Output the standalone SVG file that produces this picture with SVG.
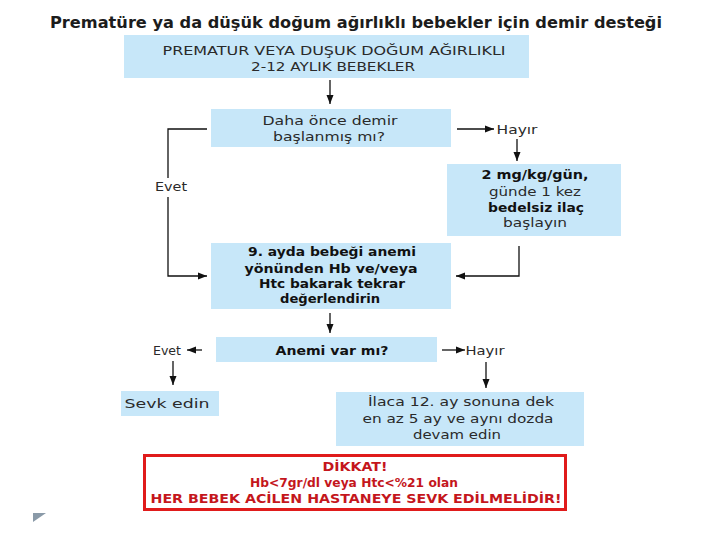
<svg xmlns="http://www.w3.org/2000/svg" width="720" height="540" viewBox="0 0 720 540">
<defs>
<marker id="ah" markerUnits="userSpaceOnUse" markerWidth="10" markerHeight="10" refX="9" refY="5" orient="auto">
<path d="M0,1.5 L9,5 L0,8.5 Z" fill="#111"/>
</marker>
<style>
.box{fill:#c7e7f9}
.t{font-family:"DejaVu Sans","Liberation Sans",sans-serif;font-size:11.5px;fill:#2a2a2a;text-anchor:middle}
.b{font-weight:bold;fill:#111}
.ttl{font-family:"DejaVu Sans","Liberation Sans",sans-serif;font-size:15px;font-weight:bold;fill:#1c1c1c;text-anchor:middle}
.r{font-family:"DejaVu Sans","Liberation Sans",sans-serif;font-size:11.5px;fill:#c4161c;text-anchor:middle}
.c{fill:none;stroke:#111;stroke-width:1.3}
</style>
</defs>
<rect width="720" height="540" fill="#fff"/>
<text class="ttl" x="356" y="28" textLength="612" lengthAdjust="spacingAndGlyphs">Prematüre ya da düşük doğum ağırlıklı bebekler için demir desteği</text>

<g id="n1"><rect class="box" x="124" y="35" width="405" height="43"/>
<text class="t" x="334" y="55" textLength="343" lengthAdjust="spacingAndGlyphs">PREMATUR VEYA DUŞUK DOĞUM AĞIRLIKLI</text>
<text class="t" x="333" y="71" textLength="164" lengthAdjust="spacingAndGlyphs">2-12 AYLIK BEBEKLER</text></g>

<g id="n2"><rect class="box" x="211" y="109" width="240" height="38"/>
<text class="t" x="330" y="125" textLength="135" lengthAdjust="spacingAndGlyphs">Daha önce demir</text>
<text class="t" x="329" y="141" textLength="112" lengthAdjust="spacingAndGlyphs">başlanmış mı?</text></g>

<g id="l_hayir1"><text class="t" x="517" y="134" textLength="41" lengthAdjust="spacingAndGlyphs">Hayır</text></g>

<g id="n3"><rect class="box" x="447" y="164" width="174" height="72"/>
<text class="t b" x="535" y="179" textLength="107" lengthAdjust="spacingAndGlyphs">2 mg/kg/gün,</text>
<text class="t" x="535" y="196" textLength="92" lengthAdjust="spacingAndGlyphs">günde 1 kez</text>
<text class="t b" x="536" y="212" textLength="96" lengthAdjust="spacingAndGlyphs">bedelsiz ilaç</text>
<text class="t" x="535" y="227" textLength="64" lengthAdjust="spacingAndGlyphs">başlayın</text></g>

<g id="l_evet1"><text class="t" x="171" y="191" textLength="32" lengthAdjust="spacingAndGlyphs">Evet</text></g>

<g id="n4"><rect class="box" x="211" y="243" width="240" height="66"/>
<text class="t b" x="332" y="256" textLength="168" lengthAdjust="spacingAndGlyphs">9. ayda bebeği anemi</text>
<text class="t b" x="331" y="273" textLength="173" lengthAdjust="spacingAndGlyphs">yönünden Hb ve/veya</text>
<text class="t b" x="332" y="288" textLength="146" lengthAdjust="spacingAndGlyphs">Htc bakarak tekrar</text>
<text class="t b" x="330" y="303" textLength="100" lengthAdjust="spacingAndGlyphs">değerlendirin</text></g>

<g id="n5"><rect class="box" x="216" y="337" width="221" height="25"/>
<text class="t b" x="332" y="355" textLength="113" lengthAdjust="spacingAndGlyphs">Anemi var mı?</text></g>

<g id="l_evet2"><text class="t" x="167" y="355" textLength="28" lengthAdjust="spacingAndGlyphs">Evet</text></g>
<g id="l_hayir2"><text class="t" x="485" y="355" textLength="39" lengthAdjust="spacingAndGlyphs">Hayır</text></g>

<g id="n6"><rect class="box" x="121" y="391" width="98" height="25"/>
<text class="t" x="167" y="408" textLength="85" lengthAdjust="spacingAndGlyphs">Sevk edin</text></g>

<g id="n7"><rect class="box" x="336" y="392" width="248" height="54"/>
<text class="t" x="461" y="406" textLength="186" lengthAdjust="spacingAndGlyphs">İlaca 12. ay sonuna dek</text>
<text class="t" x="458" y="423" textLength="191" lengthAdjust="spacingAndGlyphs">en az 5 ay ve aynı dozda</text>
<text class="t" x="457" y="439" textLength="88" lengthAdjust="spacingAndGlyphs">devam edin</text></g>

<g id="n8"><rect x="144.5" y="455.5" width="421" height="54" fill="#fff" stroke="#e01b1b" stroke-width="3"/>
<text class="r b" x="355" y="471" fill="#c4161c" style="fill:#c4161c" textLength="65" lengthAdjust="spacingAndGlyphs">DİKKAT!</text>
<text class="r b" x="354" y="487" style="fill:#c4161c" textLength="208" lengthAdjust="spacingAndGlyphs">Hb&lt;7gr/dl veya Htc&lt;%21 olan</text>
<text class="r b" x="356" y="503" style="fill:#c4161c" textLength="411" lengthAdjust="spacingAndGlyphs">HER BEBEK ACİLEN HASTANEYE SEVK EDİLMELİDİR!</text></g>

<g id="connectors">
<path class="c" d="M330,80 V104" marker-end="url(#ah)"/>
<path class="c" d="M457,129 H494" marker-end="url(#ah)"/>
<path class="c" d="M517,139 V161" marker-end="url(#ah)"/>
<path class="c" d="M207,129 H168 V178"/>
<path class="c" d="M168,197 V276 H207" marker-end="url(#ah)"/>
<path class="c" d="M519,246 V276 H456" marker-end="url(#ah)"/>
<path class="c" d="M330,313 V333" marker-end="url(#ah)"/>
<path class="c" d="M202,350 H187" marker-end="url(#ah)"/>
<path class="c" d="M442,350 H465" marker-end="url(#ah)"/>
<path class="c" d="M173,361 V385" marker-end="url(#ah)"/>
<path class="c" d="M486,362 V388" marker-end="url(#ah)"/>
</g>
<polygon points="33,513 46,513 33,522" fill="#8a9aa8"/>
</svg>
